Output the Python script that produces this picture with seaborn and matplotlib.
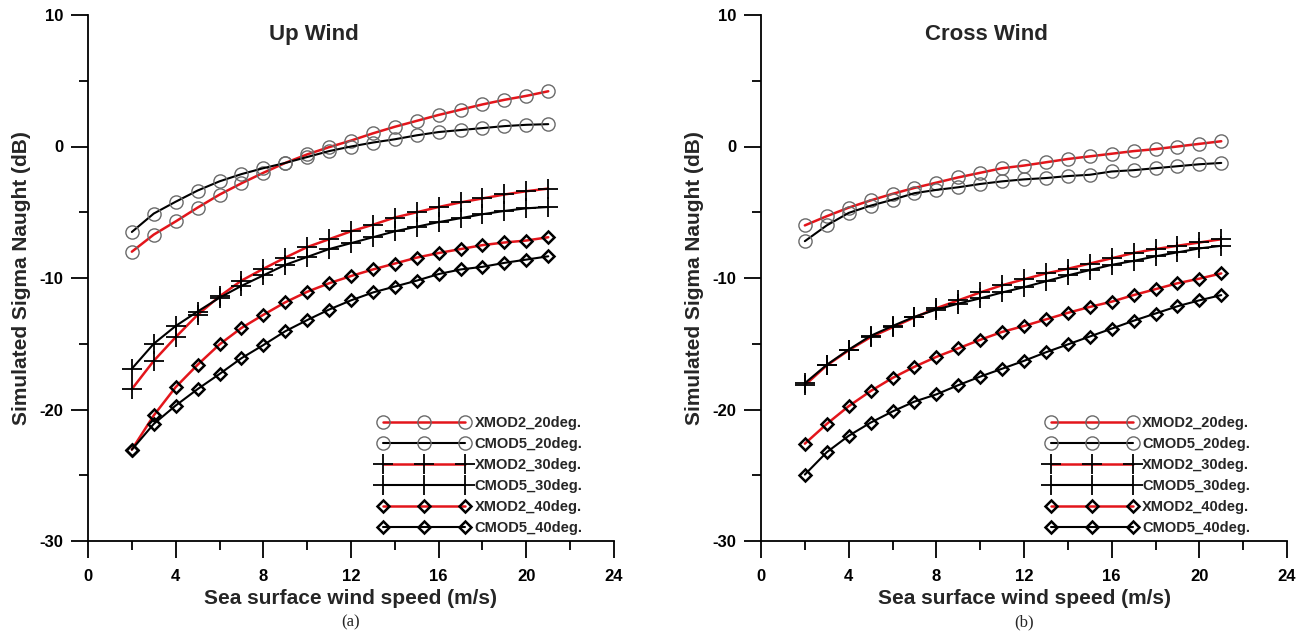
import matplotlib
matplotlib.use("Agg")
import matplotlib.pyplot as plt
import seaborn as sns
import numpy as np
import pandas as pd
from matplotlib.ticker import MultipleLocator

# ---------------- data ----------------
wind_speed = [2, 3, 4, 5, 6, 7, 8, 9, 10, 11, 12, 13, 14, 15, 16, 17, 18, 19, 20, 21]

# Up wind
up_xmod2_20 = [-8.0, -6.7, -5.7, -4.65, -3.66, -2.8, -2.0, -1.25, -0.6, -0.05, 0.45, 1.0, 1.5, 1.95, 2.4, 2.8, 3.2, 3.55, 3.85, 4.2]
up_cmod5_20 = [-6.5, -5.1, -4.2, -3.35, -2.65, -2.1, -1.65, -1.25, -0.8, -0.35, 0.0, 0.3, 0.55, 0.85, 1.1, 1.25, 1.4, 1.55, 1.65, 1.7]
up_xmod2_30 = [-18.45, -16.3, -14.5, -12.8, -11.4, -10.2, -9.3, -8.45, -7.65, -7.05, -6.45, -5.95, -5.4, -5.0, -4.6, -4.25, -3.95, -3.65, -3.4, -3.2]
up_cmod5_30 = [-16.9, -15.0, -13.65, -12.55, -11.5, -10.6, -9.8, -9.0, -8.4, -7.8, -7.35, -6.9, -6.45, -6.1, -5.75, -5.45, -5.15, -4.9, -4.7, -4.6]
up_xmod2_40 = [-23.05, -20.45, -18.3, -16.6, -15.05, -13.8, -12.8, -11.85, -11.05, -10.4, -9.85, -9.35, -8.9, -8.45, -8.1, -7.8, -7.5, -7.3, -7.15, -6.9]
up_cmod5_40 = [-23.05, -21.1, -19.7, -18.45, -17.3, -16.1, -15.1, -14.05, -13.2, -12.4, -11.7, -11.1, -10.65, -10.2, -9.7, -9.35, -9.15, -8.85, -8.6, -8.35]

# Cross wind
cr_xmod2_20 = [-6.0, -5.3, -4.65, -4.1, -3.6, -3.15, -2.75, -2.35, -2.0, -1.65, -1.45, -1.2, -0.95, -0.75, -0.55, -0.35, -0.2, 0.0, 0.2, 0.4]
cr_cmod5_20 = [-7.2, -6.0, -5.05, -4.5, -4.05, -3.55, -3.3, -3.1, -2.85, -2.65, -2.5, -2.4, -2.25, -2.15, -1.9, -1.8, -1.65, -1.5, -1.35, -1.25]
cr_xmod2_30 = [-18.15, -16.65, -15.5, -14.5, -13.75, -13.0, -12.3, -11.7, -11.1, -10.55, -10.1, -9.65, -9.3, -8.9, -8.5, -8.1, -7.8, -7.55, -7.3, -7.05]
cr_cmod5_30 = [-18.0, -16.6, -15.45, -14.4, -13.65, -12.95, -12.4, -11.95, -11.55, -11.1, -10.7, -10.25, -9.8, -9.4, -9.0, -8.7, -8.35, -8.05, -7.75, -7.55]
cr_xmod2_40 = [-22.6, -21.1, -19.75, -18.6, -17.6, -16.75, -16.0, -15.35, -14.7, -14.1, -13.65, -13.15, -12.65, -12.2, -11.8, -11.3, -10.85, -10.4, -10.05, -9.65]
cr_cmod5_40 = [-24.95, -23.25, -22.0, -21.0, -20.15, -19.4, -18.85, -18.15, -17.5, -16.9, -16.3, -15.65, -15.05, -14.45, -13.85, -13.25, -12.7, -12.15, -11.7, -11.3]

series_labels = ["XMOD2_20deg.", "CMOD5_20deg.", "XMOD2_30deg.", "CMOD5_30deg.", "XMOD2_40deg.", "CMOD5_40deg."]
panel_titles = ["Up Wind", "Cross Wind"]
panel_tags = ["(a)", "(b)"]
x_label = "Sea surface wind speed (m/s)"
y_label = "Simulated Sigma Naught (dB)"

panels = [
    [up_xmod2_20, up_cmod5_20, up_xmod2_30, up_cmod5_30, up_xmod2_40, up_cmod5_40],
    [cr_xmod2_20, cr_cmod5_20, cr_xmod2_30, cr_cmod5_30, cr_xmod2_40, cr_cmod5_40],
]

# ---------------- style ----------------
sns.set_style("ticks")
plt.rcParams["font.family"] = ["Liberation Sans", "DejaVu Sans"]
plt.rcParams["font.weight"] = "bold"
plt.rcParams["axes.unicode_minus"] = False

RED = "#e3151b"
BLACK = "#000000"
GRAY = "#6a6a6a"

styles = [
    dict(color=RED, lw=1.8, marker="o", ms=9.5, mfc="none", mec=GRAY, mew=1.0),
    dict(color=BLACK, lw=1.5, marker="o", ms=9.5, mfc="none", mec=GRAY, mew=1.0),
    dict(color=RED, lw=1.8, marker="+", ms=14, mfc="none", mec=BLACK, mew=1.3),
    dict(color=BLACK, lw=1.5, marker="+", ms=14, mfc="none", mec=BLACK, mew=1.3),
    dict(color=RED, lw=1.8, marker="D", ms=6.2, mfc="none", mec=BLACK, mew=1.8),
    dict(color=BLACK, lw=1.5, marker="D", ms=6.2, mfc="none", mec=BLACK, mew=1.8),
]

fig = plt.figure(figsize=(13.05, 6.39), dpi=100)
W, H = 1305, 639
axes_px = [(88, 15, 526, 526), (761, 15, 526, 526)]

for pi, (series, (px, py, pw, ph)) in enumerate(zip(panels, axes_px)):
    ax = fig.add_axes([px / W, 1 - (py + ph) / H, pw / W, ph / H])
    for vals, lab, st in zip(series, series_labels, styles):
        df = pd.DataFrame({"x": wind_speed, "y": vals})
        sns.lineplot(data=df, x="x", y="y", ax=ax, label=lab,
                     color=st["color"], linewidth=st["lw"], marker=st["marker"],
                     markersize=st["ms"], markerfacecolor=st["mfc"],
                     markeredgecolor=st["mec"], markeredgewidth=st["mew"],
                     errorbar=None, sort=False)
    ax.set_xlim(0, 24)
    ax.set_ylim(-30, 10)
    ax.xaxis.set_major_locator(MultipleLocator(4))
    ax.xaxis.set_minor_locator(MultipleLocator(2))
    ax.yaxis.set_major_locator(MultipleLocator(10))
    ax.yaxis.set_minor_locator(MultipleLocator(5))
    sns.despine(ax=ax)
    for s in ["left", "bottom"]:
        ax.spines[s].set_linewidth(1.3)
        ax.spines[s].set_color("black")
    ax.tick_params(axis="both", which="major", direction="out", length=12.5, width=1.3,
                   labelsize=12, colors="black")
    ax.tick_params(axis="both", which="minor", direction="out", length=6.5, width=1.3, colors="black")
    ax.tick_params(axis="x", which="major", pad=8)
    ax.tick_params(axis="y", which="major", pad=5)
    for t in ax.get_xticklabels() + ax.get_yticklabels():
        t.set_fontweight("bold")
    ax.set_xlabel(x_label, fontsize=15, fontweight="bold", labelpad=3)
    ax.set_ylabel(y_label, fontsize=15, fontweight="bold", labelpad=6)
    ax.text(10.3, 8.5, panel_titles[pi], fontsize=16, fontweight="bold",
            ha="center", va="center")
    leg = ax.legend(loc="lower right", bbox_to_anchor=(0.94 if pi == 0 else 0.93, 0.012),
                    frameon=False, numpoints=3, handlelength=6.2, handletextpad=0.35,
                    labelspacing=0.48, borderpad=0.0, borderaxespad=0.0,
                    prop=dict(size=10.5, weight="bold"))
    fig.text((px + pw / 2) / W, 1 - 622 / H, panel_tags[pi], fontsize=12,
             family=["Liberation Serif", "DejaVu Serif"], fontweight="normal",
             ha="center", va="center")

fig.savefig("out.png", dpi=100)
